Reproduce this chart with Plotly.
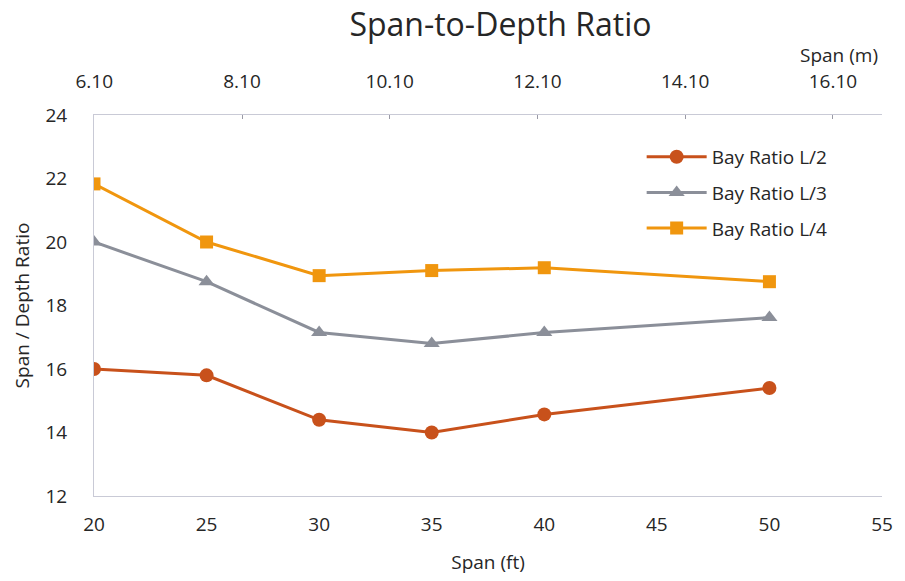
import plotly.graph_objects as go

span_ft = [20, 25, 30, 35, 40, 50]
ratio_l2 = [16.0, 15.8, 14.4, 14.0, 14.57, 15.4]
ratio_l3 = [20.0, 18.75, 17.15, 16.8, 17.15, 17.62]
ratio_l4 = [21.83, 20.0, 18.94, 19.1, 19.19, 18.75]
series_names = ["Bay Ratio L/2", "Bay Ratio L/3", "Bay Ratio L/4"]

x_ticks_ft = [20, 25, 30, 35, 40, 45, 50, 55]
y_ticks = [12, 14, 16, 18, 20, 22, 24]
m_ticks = [6.10, 8.10, 10.10, 12.10, 14.10, 16.10]
m_tick_text = ["6.10", "8.10", "10.10", "12.10", "14.10", "16.10"]
FT_TO_M = 0.3048

font_family = "'Open Sans', sans-serif"
text_color = "#262626"
axis_color = "#c9cad6"

fig = go.Figure()
styles = [
    dict(color="#c8511b", symbol="circle", size=14),
    dict(color="#8b8f99", symbol="triangle-up", size=14),
    dict(color="#f0960e", symbol="square", size=13),
]
for i, (name, vals, st) in enumerate(zip(series_names, [ratio_l2, ratio_l3, ratio_l4], styles)):
    fig.add_trace(go.Scatter(
        x=span_ft, y=vals, name=name, mode="lines+markers",
        legendgroup=f"g{i}",
        line=dict(color=st["color"], width=3),
        marker=dict(color=st["color"], symbol=st["symbol"], size=st["size"]),
        xaxis="x", yaxis="y",
    ))

# invisible trace that carries the metric (top) axis
fig.add_trace(go.Scatter(
    x=[v * FT_TO_M for v in (x_ticks_ft[0], x_ticks_ft[-1])], y=[12, 12],
    xaxis="x2", yaxis="y", mode="markers", marker=dict(opacity=0),
    showlegend=False, hoverinfo="skip",
))

fig.update_layout(
    width=905, height=581,
    margin=dict(l=94, r=17, t=115, b=84),
    paper_bgcolor="white", plot_bgcolor="white",
    font=dict(family=font_family, size=19, color=text_color),
    title=dict(text="Span-to-Depth Ratio", x=0.553, xanchor="center",
               y=0.957, yanchor="middle",
               font=dict(size=32, color=text_color, family=font_family)),
    xaxis=dict(
        range=[20, 55], tickvals=x_ticks_ft, showgrid=False, zeroline=False,
        showline=True, linecolor=axis_color, linewidth=1,
        ticks="", ticklabelstandoff=11, tickfont=dict(size=19),
        title=dict(text="Span (ft)", standoff=19, font=dict(size=19)),
    ),
    xaxis2=dict(
        overlaying="x", side="top",
        range=[20 * FT_TO_M, 55 * FT_TO_M],
        tickvals=m_ticks, ticktext=m_tick_text,
        showgrid=False, zeroline=False, showline=True,
        linecolor=axis_color, linewidth=1,
        ticks="inside", ticklen=4, tickcolor="#9a9aa6",
        ticklabelstandoff=18, tickfont=dict(size=19),
    ),
    yaxis=dict(
        range=[12, 24], tickvals=y_ticks, showgrid=False, zeroline=False,
        showline=True, linecolor=axis_color, linewidth=1,
        ticks="", ticklabelstandoff=22, tickfont=dict(size=19),
        title=dict(text="Span / Depth Ratio", standoff=10, font=dict(size=19)),
    ),
    legend=dict(
        x=0.695, y=0.94, xanchor="left", yanchor="top",
        bgcolor="rgba(0,0,0,0)", font=dict(size=19),
        tracegroupgap=8, itemwidth=60,
    ),
    annotations=[dict(
        text="Span (m)", xref="paper", yref="paper", x=0.945, y=1.157,
        xanchor="center", yanchor="middle", showarrow=False,
        font=dict(size=19, color=text_color),
    )],
)

fig.write_html("out.html")
